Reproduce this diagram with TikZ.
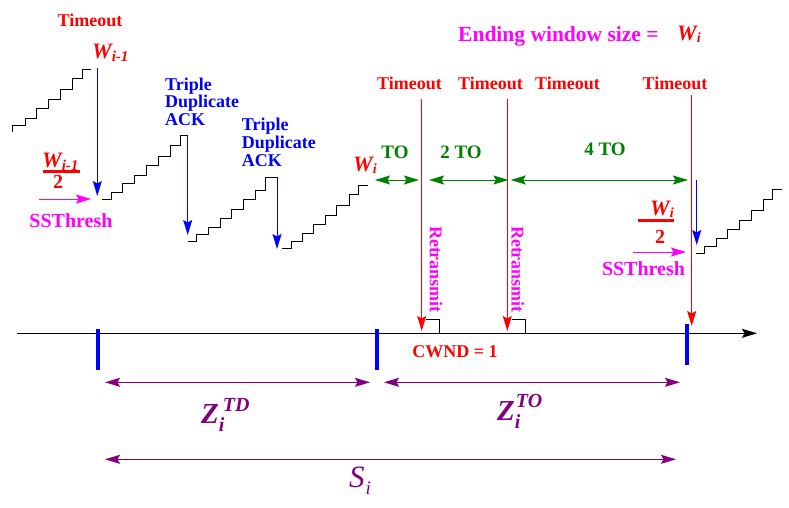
\documentclass[tikz,border=0pt]{standalone}
\usepackage{fontspec}
\setmainfont{Liberation Serif}
\usetikzlibrary{arrows.meta}
\definecolor{xred}{RGB}{255,0,0}
\definecolor{xblue}{RGB}{0,0,255}
\definecolor{xmag}{RGB}{255,0,255}
\definecolor{xgreen}{RGB}{0,128,0}
\definecolor{xpurple}{RGB}{128,0,128}
\newcommand\fs[1]{\fontsize{#1}{#1}\selectfont}
\newcommand\fsl[2]{\fontsize{#1}{#2}\selectfont}
\begin{document}
\begin{tikzpicture}[x=1pt,y=-1pt,
  txt/.style={inner sep=0pt, font=\fs{18}\bfseries},
  wlab/.style={inner sep=0pt, text=xred, font=\fs{22}\bfseries\itshape},
  tipa/.style={-{Stealth[length=15pt,width=9pt,inset=2.5pt]}},
  dtipa/.style={{Stealth[length=15pt,width=9pt,inset=2.5pt]}-{Stealth[length=15pt,width=9pt,inset=2.5pt]}},
  stairs/.style={line width=1pt, black},
  tickmark/.style={line width=4pt, xblue},
  redline/.style={tipa, line width=1pt, xred},
  blueline/.style={tipa, line width=1pt, xblue},
  greenline/.style={dtipa, line width=1pt, xgreen},
  purpline/.style={dtipa, line width=1pt, xpurple},
  magline/.style={tipa, line width=1pt, xmag},
  fracbar/.style={line width=3pt, xred},
]
\useasboundingbox (0,0) rectangle (789,508);

% ---------- top labels ----------
\node[txt, text=xred, anchor=base] (to0) at (90,27) {Timeout};
\node[wlab, anchor=base west] (wim1) at (92,59) {W\raisebox{-3pt}{\fs{15}i-1}};

\node[txt, text=xblue, anchor=north west, align=left, font={\fsl{18}{17.5}\bfseries}] (td1) at (165,77.5) {Triple\\Duplicate\\ACK};
\node[txt, text=xblue, anchor=north west, align=left, font={\fsl{18}{18}\bfseries}] (td2) at (241.7,117.5) {Triple\\Duplicate\\ACK};

\node[wlab, anchor=base west] (wi1) at (353,171) {W\raisebox{-2pt}{\fs{14}i}};

\node[txt, text=xmag, anchor=base west, font=\fs{21.5}\bfseries] (end) at (458,41.5) {Ending window size =};
\node[wlab, anchor=base west] (wiend) at (677,40.5) {W\raisebox{-2pt}{\fs{14}i}};

\node[txt, text=xred, anchor=base] (t1) at (409.5,90) {Timeout};
\node[txt, text=xred, anchor=base] (t2) at (490.5,90) {Timeout};
\node[txt, text=xred, anchor=base] (t3) at (567.5,90) {Timeout};
\node[txt, text=xred, anchor=base] (t4) at (675,90) {Timeout};

\node[txt, text=xgreen, anchor=base, font=\fs{19}\bfseries] (lto1) at (395,158) {TO};
\node[txt, text=xgreen, anchor=base, font=\fs{19}\bfseries] (lto2) at (461,158) {2 TO};
\node[txt, text=xgreen, anchor=base, font=\fs{19}\bfseries] (lto4) at (605,155) {4 TO};

% ---------- left fraction ----------
\node[wlab, anchor=base west] (fnum1) at (42,167) {W\raisebox{-3pt}{\fs{15}i-1}};
\draw[fracbar] (43,171) -- (80,171);
\node[txt, text=xred, anchor=base, font=\fs{20}\bfseries] (fden1) at (58,188) {2};
\node[txt, text=xmag, anchor=base, font=\fs{20}\bfseries] (ss1) at (71,227) {SSThresh};

% ---------- right fraction ----------
\node[wlab, anchor=base west] (fnum2) at (650,215) {W\raisebox{-2pt}{\fs{14}i}};
\draw[fracbar] (638,220.7) -- (674,220.7);
\node[txt, text=xred, anchor=base, font=\fs{20}\bfseries] (fden2) at (660,243) {2};
\node[txt, text=xmag, anchor=base, font=\fs{20}\bfseries] (ss2) at (643.5,275) {SSThresh};

% ---------- staircases ----------
\draw[stairs] (12.7,132) -- (12.7,125.3) -- (25,125.3) -- (25,118.3) -- (36.7,118.3) -- (36.7,109) -- (48.7,109) -- (48.7,99.3) -- (60.7,99.3) -- (60.7,90) -- (72.7,90) -- (72.7,79) -- (82,79) -- (82,69.3) -- (90.7,69.3);
\draw[stairs] (102.3,199.3) -- (111,199.3) -- (111,192.7) -- (122.7,192.7) -- (122.7,183.3) -- (134.3,183.3) -- (134.3,175) -- (146.7,175) -- (146.7,165.7) -- (158.3,165.7) -- (158.3,156.7) -- (170.7,156.7) -- (170.7,145) -- (180,145) -- (180,135.3) -- (187.7,135.3);
\draw[stairs] (187.7,241.3) -- (196.7,241.3) -- (196.7,234.3) -- (208.3,234.3) -- (208.3,227.3) -- (220.7,227.3) -- (220.7,218.3) -- (231.7,218.3) -- (231.7,209) -- (243.3,209) -- (243.3,199.3) -- (255,199.3) -- (255,190) -- (265,190) -- (265,177.7) -- (277,177.7);
\draw[stairs] (281.7,248.3) -- (291.7,248.3) -- (291.7,241) -- (302.7,241) -- (302.7,233.3) -- (313.3,233.3) -- (313.3,224.3) -- (325,224.3) -- (325,215) -- (336.7,215) -- (336.7,205) -- (349.3,205) -- (349.3,194.3) -- (358.3,194.3) -- (358.3,185) -- (367.7,185);
\draw[stairs] (695.7,253.3) -- (704.3,253.3) -- (704.3,246.7) -- (716,246.7) -- (716,238.3) -- (727.7,238.3) -- (727.7,229.3) -- (739.3,229.3) -- (739.3,220) -- (751.7,220) -- (751.7,210) -- (763.3,210) -- (763.3,199.3) -- (772.7,199.3) -- (772.7,189.3) -- (781.7,189.3);

% ---------- blue drop arrows ----------
\coordinate (b1s) at (97.3,68); \coordinate (b1e) at (97.3,196);
\coordinate (b2s) at (187.7,135.3); \coordinate (b2e) at (187.7,235);
\coordinate (b3s) at (277,177); \coordinate (b3e) at (277,249);
\coordinate (b4s) at (696.7,180); \coordinate (b4e) at (696.7,245);
\draw[blueline] (b1s) -- (b1e);
\draw[blueline] (b2s) -- (b2e);
\draw[blueline] (b3s) -- (b3e);
\draw[blueline] (b4s) -- (b4e);

% ---------- magenta SSThresh arrows ----------
\coordinate (m1s) at (39,199); \coordinate (m1e) at (91,199);
\coordinate (m2s) at (633,252); \coordinate (m2e) at (686,252);
\draw[magline] (m1s) -- (m1e);
\draw[magline] (m2s) -- (m2e);

% ---------- axis ----------
\coordinate (ax0) at (17,333.3); \coordinate (ax1) at (757,333.3);
\draw[tipa, line width=1pt, black] (ax0) -- (ax1);

% ---------- timeout red arrows ----------
\coordinate (r1s) at (421.7,99); \coordinate (r1e) at (421.7,331);
\coordinate (r2s) at (507.3,99); \coordinate (r2e) at (507.3,331);
\coordinate (r3s) at (691.7,95); \coordinate (r3e) at (691.7,326);
\draw[redline] (r1s) -- (r1e);
\draw[redline] (r2s) -- (r2e);
\draw[redline] (r3s) -- (r3e);
\draw[line width=1pt, black] (426,319.3) -- (439,319.3) -- (439,333.3);
\draw[line width=1pt, black] (511.7,319.3) -- (525.7,319.3) -- (525.7,333.3);

\node[txt, text=xmag, rotate=-90, anchor=center] (re1) at (436,269.5) {Retransmit};
\node[txt, text=xmag, rotate=-90, anchor=center] (re2) at (517.7,269.5) {Retransmit};

% ---------- green TO arrows ----------
\coordinate (g1s) at (375,180); \coordinate (g1e) at (419,180);
\coordinate (g2s) at (429,180); \coordinate (g2e) at (508.5,180);
\coordinate (g3s) at (510.7,180); \coordinate (g3e) at (688,180);
\draw[greenline] (g1s) -- (g1e);
\draw[greenline] (g2s) -- (g2e);
\draw[greenline] (g3s) -- (g3e);

% ---------- blue ticks ----------
\draw[tickmark] (97.7,329) -- (97.7,370);
\draw[tickmark] (376.7,329) -- (376.7,370);
\draw[tickmark] (686.7,324) -- (686.7,365);

\node[txt, text=xred, anchor=base] (cwnd) at (455,357) {CWND = 1};

% ---------- purple spans ----------
\coordinate (p1s) at (105,382.3); \coordinate (p1e) at (370,382.3);
\coordinate (p2s) at (384,382.3); \coordinate (p2e) at (680,382.3);
\coordinate (p3s) at (105,459.3); \coordinate (p3e) at (676,459.3);
\draw[purpline] (p1s) -- (p1e);
\draw[purpline] (p2s) -- (p2e);
\draw[purpline] (p3s) -- (p3e);

\node[inner sep=0pt, anchor=base west, text=xpurple, font=\fs{29}\bfseries\itshape] (ztd) at (201,423)
  {Z\makebox[0pt][l]{\hspace{4pt}\raisebox{12pt}{\fs{20}TD}}\raisebox{-8pt}{\fs{20}i}};
\node[inner sep=0pt, anchor=base west, text=xpurple, font=\fs{29}\bfseries\itshape] (zto) at (497,420)
  {Z\makebox[0pt][l]{\hspace{1pt}\raisebox{13pt}{\fs{20}TO}}\raisebox{-8pt}{\fs{20}i}};
\node[inner sep=0pt, anchor=base west, text=xpurple, font=\fs{31}\itshape] (si) at (349,487)
  {S\hspace{1pt}\raisebox{-7pt}{\fs{19}i}};
\end{tikzpicture}
\end{document}
